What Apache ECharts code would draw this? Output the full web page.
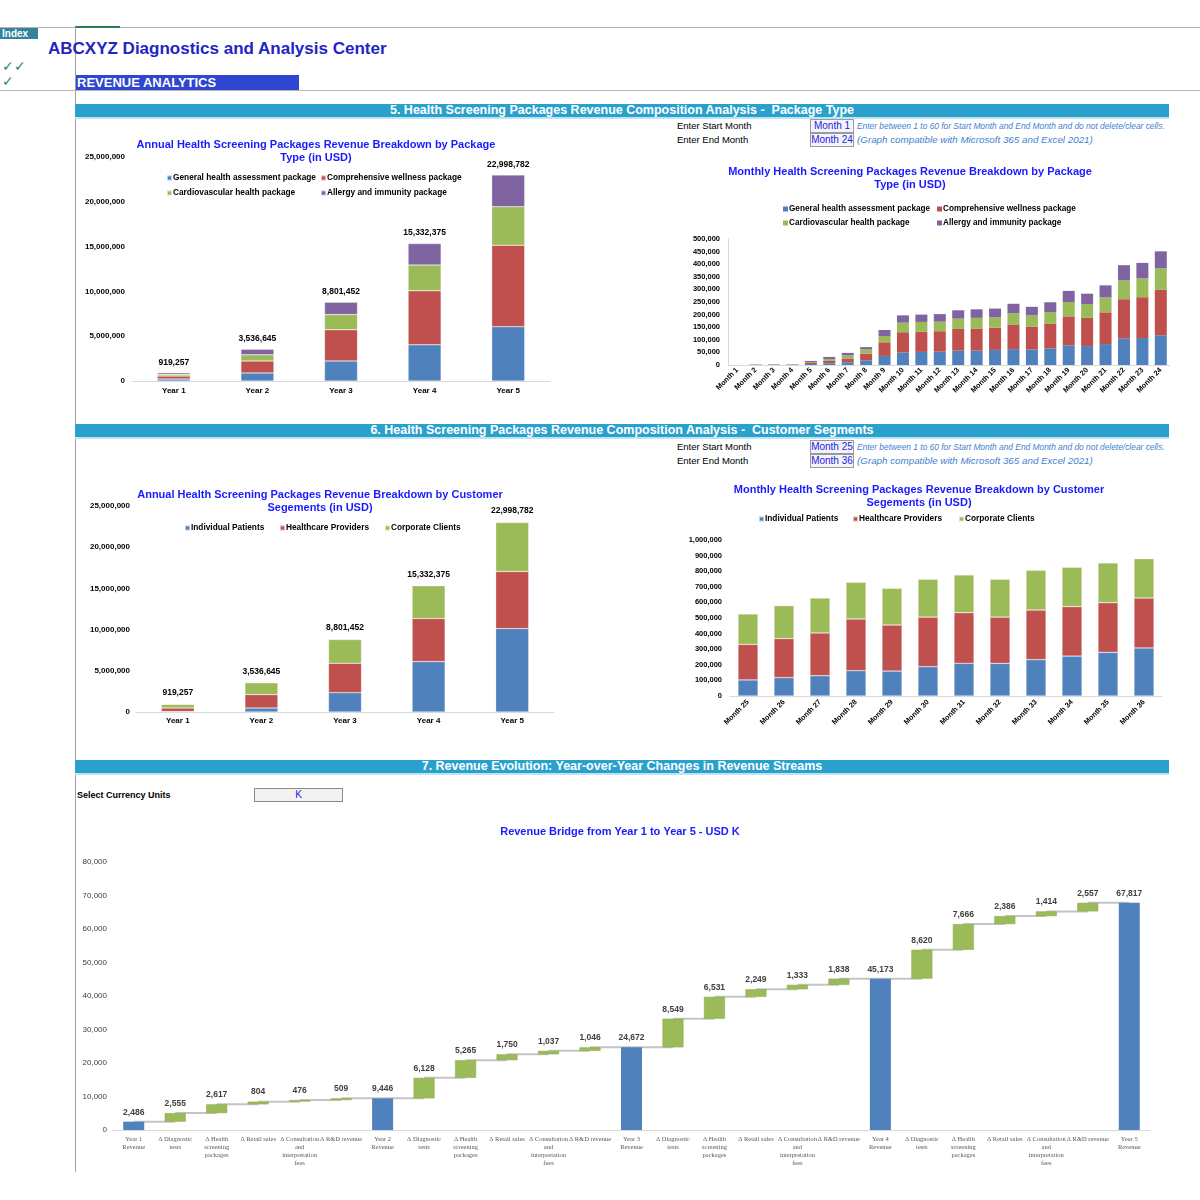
<!DOCTYPE html>
<html>
<head>
<meta charset="utf-8">
<script src="https://cdn.jsdelivr.net/npm/echarts/dist/echarts.min.js"></script>
<style>
  html, body { margin:0; padding:0; background:#fff; }
  body { width:1200px; height:1200px; position:relative; overflow:hidden; font-family:"Liberation Sans", Arial, sans-serif; }
  .abs { position:absolute; }
  .hline { position:absolute; height:1px; background:#b4b4b4; }
  .banner { position:absolute; left:75px; width:1094px; height:13px; background:#2aa1cc; color:#fff; font-weight:bold; font-size:12.5px; line-height:13px; text-align:center; border-bottom:2px solid #bfe3f0; white-space:nowrap; }
  .lbl { position:absolute; font-size:9.5px; color:#000; }
  .mbox { position:absolute; left:810px; width:42px; height:12px; border:1px solid #9a9a9a; background:#f3f3fa; color:#2424e0; font-size:10px; line-height:12px; text-align:center; }
  .note { position:absolute; left:857px; color:#3f7fcf; font-style:italic; white-space:nowrap; }
  .chart { position:absolute; }
</style>
</head>
<body>
<div class="hline" style="left:0;top:27px;width:1200px;"></div>
<div class="abs" style="left:75px;top:26px;width:45px;height:2px;background:#2e7d4f;"></div>
<div class="abs" style="left:0;top:28px;width:36px;height:11px;background:#31849b;color:#fff;font-weight:bold;font-size:10px;line-height:11px;padding-left:2px;">Index</div>
<div class="abs" style="left:75px;top:27px;width:1px;height:1145px;background:#a0a0a0;"></div>
<div class="abs" style="left:48px;top:39px;font-weight:bold;font-size:17px;color:#2424c4;">ABCXYZ Diagnostics and Analysis Center</div>
<div class="abs" style="left:2px;top:58px;font-size:14px;color:#2e8b57;">✓✓</div>
<div class="abs" style="left:2px;top:73px;font-size:14px;color:#2e8b57;">✓</div>
<div class="abs" style="left:76px;top:75px;width:222px;height:15px;background:#2e46d0;color:#fff;font-weight:bold;font-size:13px;line-height:15px;padding-left:1px;">REVENUE ANALYTICS</div>
<div class="hline" style="left:0;top:90px;width:1200px;"></div>

<div class="banner" style="top:104px;">5. Health Screening Packages Revenue Composition Analysis -&nbsp; Package Type</div>
<div class="lbl" style="left:677px;top:120px;">Enter Start Month</div>
<div class="lbl" style="left:677px;top:134px;">Enter End Month</div>
<div class="mbox" style="top:119px;">Month 1</div>
<div class="mbox" style="top:133px;">Month 24</div>
<div class="note" style="top:121px;font-size:8.4px;">Enter between 1 to 60 for Start Month and End Month and do not delete/clear cells.</div>
<div class="note" style="top:134px;font-size:9.8px;">(Graph compatible with Microsoft 365 and Excel 2021)</div>

<div class="banner" style="top:424px;">6. Health Screening Packages Revenue Composition Analysis -&nbsp; Customer Segments</div>
<div class="lbl" style="left:677px;top:441px;">Enter Start Month</div>
<div class="lbl" style="left:677px;top:455px;">Enter End Month</div>
<div class="mbox" style="top:440px;">Month 25</div>
<div class="mbox" style="top:454px;">Month 36</div>
<div class="note" style="top:442px;font-size:8.4px;">Enter between 1 to 60 for Start Month and End Month and do not delete/clear cells.</div>
<div class="note" style="top:455px;font-size:9.8px;">(Graph compatible with Microsoft 365 and Excel 2021)</div>

<div class="banner" style="top:760px;">7. Revenue Evolution: Year-over-Year Changes in Revenue Streams</div>
<div class="abs" style="left:77px;top:790px;font-weight:bold;font-size:9px;">Select Currency Units</div>
<div class="abs" style="left:254px;top:788px;width:87px;height:12px;border:1px solid #8a8a8a;background:#f2f2f2;color:#2424e0;font-size:10px;line-height:12px;text-align:center;">K</div>

<div id="c1" class="chart" style="left:75px;top:130px;width:482px;height:275px;"></div>
<div id="c2" class="chart" style="left:650px;top:160px;width:520px;height:245px;"></div>
<div id="c3" class="chart" style="left:75px;top:480px;width:490px;height:255px;"></div>
<div id="c4" class="chart" style="left:670px;top:475px;width:498px;height:260px;"></div>
<div id="c5" class="chart" style="left:75px;top:815px;width:1090px;height:365px;"></div>

<script>
// ---------- DATA ----------
const years = ['Year 1', 'Year 2', 'Year 3', 'Year 4', 'Year 5'];
const yearTotals = [919257, 3536645, 8801452, 15332375, 22998782];

const packageNames = ['General health assessment package', 'Comprehensive wellness package', 'Cardiovascular health package', 'Allergy and immunity package'];
const pkgGeneral = [230000, 900000, 2240000, 4040000, 6060000];
const pkgComprehensive = [330000, 1340000, 3480000, 6030000, 9090000];
const pkgCardio = [190000, 680000, 1690000, 2870000, 4300000];
const pkgAllergy = [169257, 616645, 1391452, 2392375, 3548782];

const months1 = ['Month 1','Month 2','Month 3','Month 4','Month 5','Month 6','Month 7','Month 8','Month 9','Month 10','Month 11','Month 12','Month 13','Month 14','Month 15','Month 16','Month 17','Month 18','Month 19','Month 20','Month 21','Month 22','Month 23','Month 24'];
const mGeneral = [0, 500, 1000, 1000, 4000, 7000, 11000, 18500, 36000, 50000, 52000, 53000, 57000, 57000, 60000, 63000, 62000, 66000, 78000, 75000, 83000, 106000, 107000, 118000];
const mComprehensive = [0, 1000, 1000, 1000, 4000, 9000, 15000, 26500, 54000, 80000, 80000, 81000, 86000, 88000, 88000, 98000, 91000, 97000, 115000, 112000, 126000, 155000, 162000, 180000];
const mCardio = [0, 500, 500, 500, 4000, 8000, 12000, 17000, 25000, 38000, 39000, 38000, 41000, 42000, 41000, 45000, 44000, 47000, 57000, 55000, 59000, 75000, 75000, 86000];
const mAllergy = [0, 500, 500, 500, 4000, 8000, 10000, 9000, 24000, 29000, 29000, 30000, 33000, 34000, 35000, 37000, 34000, 39000, 44000, 41000, 48000, 60000, 61000, 67000];

const segmentNames = ['Individual Patients', 'Healthcare Providers', 'Corporate Clients'];
const segIndividual = [50000, 490000, 2350000, 6120000, 10130000];
const segHealthcare = [440000, 1620000, 3570000, 5230000, 6930000];
const segCorporate = [429257, 1426645, 2881452, 3982375, 5938782];

const months2 = ['Month 25','Month 26','Month 27','Month 28','Month 29','Month 30','Month 31','Month 32','Month 33','Month 34','Month 35','Month 36'];
const m2Individual = [103000, 118000, 130000, 162000, 160000, 188000, 209000, 209000, 233000, 256000, 280000, 308000];
const m2Healthcare = [228000, 250000, 274000, 332000, 295000, 318000, 325000, 297000, 318000, 317000, 318000, 320000];
const m2Corporate = [195000, 211000, 224000, 235000, 235000, 242000, 242000, 242000, 255000, 252000, 255000, 252000];

const bridgeLabels = [
  'Year 1\nRevenue', 'Δ Diagnostic\ntests', 'Δ Health\nscreening\npackages', 'Δ Retail sales', 'Δ Consultation\nand\ninterpretation\nfees', 'Δ R&D revenue',
  'Year 2\nRevenue', 'Δ Diagnostic\ntests', 'Δ Health\nscreening\npackages', 'Δ Retail sales', 'Δ Consultation\nand\ninterpretation\nfees', 'Δ R&D revenue',
  'Year 3\nRevenue', 'Δ Diagnostic\ntests', 'Δ Health\nscreening\npackages', 'Δ Retail sales', 'Δ Consultation\nand\ninterpretation\nfees', 'Δ R&D revenue',
  'Year 4\nRevenue', 'Δ Diagnostic\ntests', 'Δ Health\nscreening\npackages', 'Δ Retail sales', 'Δ Consultation\nand\ninterpretation\nfees', 'Δ R&D revenue',
  'Year 5\nRevenue'
];
const bridgeValues = [2486, 2555, 2617, 804, 476, 509, 9446, 6128, 5265, 1750, 1037, 1046, 24672, 8549, 6531, 2249, 1333, 1838, 45173, 8620, 7666, 2386, 1414, 2557, 67817];
const bridgeKinds = ['total','delta','delta','delta','delta','delta','total','delta','delta','delta','delta','delta','total','delta','delta','delta','delta','delta','total','delta','delta','delta','delta','delta','total'];

// ---------- STYLE ----------
const FONT = 'Liberation Sans';
const C_BLUE = '#4f81bd', C_RED = '#c0504d', C_GREEN = '#9bbb59', C_PURPLE = '#8064a2';
const fmt = v => Number(v).toLocaleString('en-US');

function legendItem(name, left, top, fs) {
  return { data: [name], left: left, top: top, icon: 'rect', itemWidth: 5, itemHeight: 5, itemGap: 0, padding: 0,
    selectedMode: false, textStyle: { fontFamily: FONT, fontSize: fs, fontWeight: 'bold', color: '#000', padding: [0, 0, 0, -4] } };
}
function titleOpt(text, top) {
  return { text: text, left: 'center', top: top, textStyle: { fontFamily: FONT, fontSize: 11, fontWeight: 'bold', color: '#1a1aff', lineHeight: 13 } };
}
function barSeries(name, data, color, stack, width, extra, border) {
  return Object.assign({ name: name, type: 'bar', stack: stack, data: data, barWidth: width,
    itemStyle: border ? { color: color, borderColor: 'rgba(255,255,255,0.6)', borderWidth: 0.5 } : { color: color } }, extra || {});
}

// ---------- CHART 1 ----------
const c1 = echarts.init(document.getElementById('c1'));
c1.setOption({
  animation: false,
  title: titleOpt('Annual Health Screening Packages Revenue Breakdown by Package\nType (in USD)', 3),
  legend: [
    legendItem(packageNames[0], 91, 44, 8.3), legendItem(packageNames[1], 245, 44, 8.3),
    legendItem(packageNames[2], 91, 59, 8.3), legendItem(packageNames[3], 245, 59, 8.3)
  ],
  grid: { left: 57, top: 27, width: 418, height: 224 },
  xAxis: { type: 'category', data: years, axisLine: { lineStyle: { color: '#d9d9d9' } }, axisTick: { show: false },
    axisLabel: { fontFamily: FONT, fontSize: 8, fontWeight: 'bold', color: '#000', margin: 6 } },
  yAxis: { type: 'value', min: 0, max: 25000000, interval: 5000000, splitLine: { show: false },
    axisLabel: { fontFamily: FONT, fontSize: 8, fontWeight: 'bold', color: '#000', margin: 7, formatter: fmt } },
  series: [
    barSeries(packageNames[0], pkgGeneral, C_BLUE, 'a', 33, null, true),
    barSeries(packageNames[1], pkgComprehensive, C_RED, 'a', 33, null, true),
    barSeries(packageNames[2], pkgCardio, C_GREEN, 'a', 33, null, true),
    barSeries(packageNames[3], pkgAllergy, C_PURPLE, 'a', 33, {
      label: { show: true, position: 'top', distance: 6, fontFamily: FONT, fontSize: 8.5, fontWeight: 'bold', color: '#000',
        formatter: p => fmt(yearTotals[p.dataIndex]) } }, true)
  ]
});

// ---------- CHART 2 ----------
const c2 = echarts.init(document.getElementById('c2'));
c2.setOption({
  animation: false,
  title: titleOpt('Monthly Health Screening Packages Revenue Breakdown by Package\nType (in USD)', 0),
  legend: [
    legendItem(packageNames[0], 133, 45, 8.2), legendItem(packageNames[1], 287, 45, 8.2),
    legendItem(packageNames[2], 133, 59, 8.2), legendItem(packageNames[3], 287, 59, 8.2)
  ],
  grid: { left: 78, top: 79, width: 442, height: 126 },
  xAxis: { type: 'category', data: months1, axisLine: { lineStyle: { color: '#d9d9d9' } }, axisTick: { show: false },
    axisLabel: { interval: 0, rotate: 45, fontFamily: FONT, fontSize: 7.3, fontWeight: 'bold', color: '#000', margin: 4 } },
  yAxis: { type: 'value', min: 0, max: 500000, interval: 50000, splitLine: { show: false },
    axisLine: { show: true, lineStyle: { color: '#d9d9d9' } },
    axisLabel: { fontFamily: FONT, fontSize: 7.5, fontWeight: 'bold', color: '#000', margin: 8, formatter: fmt } },
  series: [
    barSeries(packageNames[0], mGeneral, C_BLUE, 'a', 12),
    barSeries(packageNames[1], mComprehensive, C_RED, 'a', 12),
    barSeries(packageNames[2], mCardio, C_GREEN, 'a', 12),
    barSeries(packageNames[3], mAllergy, C_PURPLE, 'a', 12)
  ]
});

// ---------- CHART 3 ----------
const c3 = echarts.init(document.getElementById('c3'));
c3.setOption({
  animation: false,
  title: titleOpt('Annual Health Screening Packages Revenue Breakdown by Customer\nSegements (in USD)', 3),
  legend: [
    legendItem(segmentNames[0], 109, 44, 8.3), legendItem(segmentNames[1], 204, 44, 8.3), legendItem(segmentNames[2], 309, 44, 8.3)
  ],
  grid: { left: 61, top: 26, width: 418, height: 206 },
  xAxis: { type: 'category', data: years, axisLine: { lineStyle: { color: '#d9d9d9' } }, axisTick: { show: false },
    axisLabel: { fontFamily: FONT, fontSize: 8, fontWeight: 'bold', color: '#000', margin: 5 } },
  yAxis: { type: 'value', min: 0, max: 25000000, interval: 5000000, splitLine: { show: false },
    axisLabel: { fontFamily: FONT, fontSize: 8, fontWeight: 'bold', color: '#000', margin: 6, formatter: fmt } },
  series: [
    barSeries(segmentNames[0], segIndividual, C_BLUE, 'a', 33, null, true),
    barSeries(segmentNames[1], segHealthcare, C_RED, 'a', 33, null, true),
    barSeries(segmentNames[2], segCorporate, C_GREEN, 'a', 33, {
      label: { show: true, position: 'top', distance: 7, fontFamily: FONT, fontSize: 8.5, fontWeight: 'bold', color: '#000',
        formatter: p => fmt(yearTotals[p.dataIndex]) } }, true)
  ]
});

// ---------- CHART 4 ----------
const c4 = echarts.init(document.getElementById('c4'));
c4.setOption({
  animation: false,
  title: titleOpt('Monthly Health Screening Packages Revenue Breakdown by Customer\nSegements (in USD)', 3),
  legend: [
    legendItem(segmentNames[0], 88, 40, 8.3), legendItem(segmentNames[1], 182, 40, 8.3), legendItem(segmentNames[2], 288, 40, 8.3)
  ],
  grid: { left: 60, top: 65, width: 432, height: 156 },
  xAxis: { type: 'category', data: months2, axisLine: { lineStyle: { color: '#d9d9d9' } }, axisTick: { show: false },
    axisLabel: { interval: 0, rotate: 45, fontFamily: FONT, fontSize: 7.3, fontWeight: 'bold', color: '#000', margin: 5 } },
  yAxis: { type: 'value', min: 0, max: 1000000, interval: 100000, splitLine: { show: false },
    axisLabel: { fontFamily: FONT, fontSize: 7.5, fontWeight: 'bold', color: '#000', margin: 8, formatter: fmt } },
  series: [
    barSeries(segmentNames[0], m2Individual, C_BLUE, 'a', 20, null, true),
    barSeries(segmentNames[1], m2Healthcare, C_RED, 'a', 20, null, true),
    barSeries(segmentNames[2], m2Corporate, C_GREEN, 'a', 20, null, true)
  ]
});

// ---------- CHART 5 (waterfall) ----------
const baseData = [], deltaData = [], totalData = [], connectors = [];
let running = 0;
bridgeValues.forEach((v, i) => {
  if (bridgeKinds[i] === 'total') {
    baseData.push(0); deltaData.push('-'); totalData.push(v); running = v;
  } else {
    baseData.push(running); deltaData.push(v); totalData.push('-'); running += v;
  }
  if (i < bridgeValues.length - 1) connectors.push([i, running]);
});
const c5 = echarts.init(document.getElementById('c5'));
c5.setOption({
  animation: false,
  title: { text: 'Revenue Bridge from Year 1 to Year 5 - USD K', left: 'center', top: 6,
    textStyle: { fontFamily: FONT, fontSize: 11, fontWeight: 'bold', color: '#1a1aff' } },
  grid: { left: 38, top: 47, width: 1037, height: 268 },
  xAxis: { type: 'category', data: bridgeLabels, axisLine: { lineStyle: { color: '#d9d9d9' } }, axisTick: { show: false },
    axisLabel: { interval: 0, fontFamily: 'Liberation Serif', fontSize: 6.5, color: '#595959', lineHeight: 8, margin: 5, align: 'center', verticalAlign: 'top' } },
  yAxis: { type: 'value', min: 0, max: 80000, interval: 10000, splitLine: { show: false },
    axisLabel: { fontFamily: FONT, fontSize: 8, color: '#404040', margin: 6, formatter: fmt } },
  series: [
    { type: 'custom', z: 1, data: connectors,
      renderItem: (params, api) => {
        const p1 = api.coord([api.value(0), api.value(1)]);
        const p2 = api.coord([api.value(0) + 1, api.value(1)]);
        return { type: 'line', shape: { x1: p1[0], y1: p1[1], x2: p2[0], y2: p2[1] }, style: { stroke: '#c4c4c4', lineWidth: 2 } };
      } },
    { name: 'base', type: 'bar', stack: 'w', data: baseData, barWidth: 21, z: 2, itemStyle: { color: 'rgba(0,0,0,0)' } },
    { name: 'delta', type: 'bar', stack: 'w', data: deltaData, barWidth: 21, z: 3,
      itemStyle: { color: C_GREEN, borderColor: '#8aa84f', borderWidth: 0.5 },
      label: { show: true, position: 'top', distance: 5, fontFamily: FONT, fontSize: 8.5, fontWeight: 'bold', color: '#404040', formatter: p => fmt(p.value) } },
    { name: 'total', type: 'bar', stack: 'w', data: totalData, barWidth: 21, z: 3,
      itemStyle: { color: C_BLUE },
      label: { show: true, position: 'top', distance: 5, fontFamily: FONT, fontSize: 8.5, fontWeight: 'bold', color: '#404040', formatter: p => fmt(p.value) } }
  ]
});
</script>
</body>
</html>
